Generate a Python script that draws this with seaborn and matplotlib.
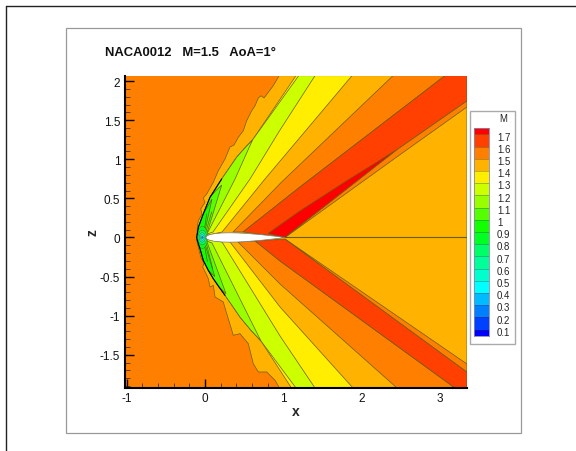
import numpy as np
import pandas as pd
import matplotlib
matplotlib.use("Agg")
import matplotlib.pyplot as plt
import seaborn as sns
from matplotlib.colors import ListedColormap
from matplotlib.lines import Line2D
from matplotlib.patches import Ellipse, Rectangle
from matplotlib.ticker import FormatStrFormatter, MultipleLocator

# legend levels, top to bottom
level_labels = ["1.7", "1.6", "1.5", "1.4", "1.3", "1.2", "1.1", "1", "0.9",
                "0.8", "0.7", "0.6", "0.5", "0.4", "0.3", "0.2", "0.1"]
level_colors = ["#ff0000", "#ff4000", "#ff8000", "#ffb300", "#ffee00", "#ccff00",
                "#99ff00", "#55ff00", "#11ff00", "#00ff22", "#00ff66", "#00ff99",
                "#00ffcc", "#00ffff", "#00bbff", "#0080ff", "#0040ff", "#0000ff"]

x_limits = (-1.027, 3.342)
z_limits = (-1.925, 2.069)

# edge of the outer light band (wavy upstream front)
front_up_x = [0.945, 0.871, 0.753, 0.714, 0.680, 0.638, 0.596, 0.532, 0.489, 0.425,
              0.370, 0.319, 0.255, 0.170, 0.106, 0.022, -0.022, 0.0, -0.055, -0.038,
              -0.085, -0.098, -0.106]
front_up_z = [2.069, 1.941, 1.784, 1.813, 1.784, 1.685, 1.621, 1.494, 1.366, 1.281,
              1.183, 1.157, 1.003, 0.854, 0.706, 0.556, 0.505, 0.450, 0.364, 0.300,
              0.215, 0.134, -0.019]
front_lo_x = [-0.098, -0.085, -0.055, -0.013, -0.030, 0.022, 0.042, 0.064, 0.106, 0.128,
              0.233, 0.277, 0.361, 0.446, 0.552, 0.616, 0.680, 0.787, 0.893, 0.950]
front_lo_z = [-0.079, -0.121, -0.249, -0.335, -0.377, -0.483, -0.527, -0.633, -0.612, -0.761,
              -0.825, -0.974, -1.251, -1.230, -1.358, -1.614, -1.720, -1.720, -1.826, -1.925]

# bow shock
shock_up_x = [-0.106, -0.098, -0.085, -0.022, 0.064, 0.140, 0.213, 0.310, 0.404, 0.500, 0.606]
shock_up_z = [0.0, 0.045, 0.130, 0.300, 0.514, 0.633, 0.748, 0.889, 1.026, 1.135, 1.247]
shock_up_end = (1.160, 2.069)
shock_lo_x = [-0.106, -0.098, -0.064, -0.022, 0.042, 0.106, 0.179, 0.255, 0.353, 0.446, 0.587, 0.714]
shock_lo_z = [0.0, -0.036, -0.143, -0.292, -0.420, -0.527, -0.633, -0.739, -0.880, -1.017, -1.187, -1.324]
shock_lo_end = (1.103, -1.925)

# iso-Mach rays, upper side
ray_ccff_up_x = [1.403, 0.957, 0.574, 0.102]
ray_ccff_up_z = [2.069, 1.375, 0.748, 0.070]
ray_yellow_up_x = [1.875, 0.765, 0.217]
ray_yellow_up_z = [2.069, 0.748, 0.070]
ray_light_up_x = [2.398, 0.978, 0.357]
ray_light_up_z = [2.069, 0.710, 0.070]
ray_orange_up_x = [3.061, 1.212, 0.485]
ray_orange_up_z = [2.069, 0.646, 0.070]
ray_red_up_x = [0.804, 1.212, 1.800, 2.462]
ray_red_up_z = [0.051, 0.340, 0.720, 1.132]

# iso-Mach rays, lower side
ray_ccff_lo_x = [1.403, 0.957, 0.650, 0.217]
ray_ccff_lo_z = [-1.925, -1.260, -0.761, -0.058]
ray_yellow_lo_x = [1.888, 0.957, 0.319]
ray_yellow_lo_z = [-1.925, -0.889, -0.058]
ray_light_lo_x = [2.449, 0.957, 0.421]
ray_light_lo_z = [-1.925, -0.595, -0.058]
ray_orange_lo_x = [3.189, 0.957, 0.640]
ray_orange_lo_z = [-1.925, -0.301, -0.045]

trailing_x, trailing_z = 1.020, 0.0

# thin contour spokes in the green part of the fan
spoke_x0 = [-0.013, 0.010, -0.013, 0.013]
spoke_z0 = [0.070, 0.070, -0.060, -0.060]
spoke_x1 = [0.022, 0.085, 0.030, 0.098]
spoke_z1 = [0.300, 0.326, -0.310, -0.400]

# supersonic pocket around the nose
nose_x = -0.034
nose_colors = ["#00ff22", "#00ff66", "#00ffcc", "#00ffff", "#0080ff"]
nose_rx = [0.070, 0.056, 0.040, 0.027, 0.012]
nose_rz = [0.140, 0.095, 0.060, 0.035, 0.015]

# airfoil half thickness
foil_x = [0.01, 0.0226, 0.035, 0.06, 0.11, 0.21, 0.31, 0.41, 0.51, 0.71, 0.91, 1.02]
foil_t = [0.0, 0.0189, 0.0262, 0.0355, 0.0468, 0.0574, 0.060, 0.058, 0.0529, 0.0367, 0.0145, 0.0]

EDGE = "#6b5c10"
W, H = 576, 452

sns.set_style("white")
plt.rcParams["font.family"] = ["Liberation Sans", "DejaVu Sans"]
plt.rcParams["axes.unicode_minus"] = False

fig = plt.figure(figsize=(W / 100, H / 100), dpi=100)
ax = fig.add_axes([124.5 / W, (H - 389) / H, (467 - 124.5) / W, (389 - 76.7) / H])
ax.set_facecolor(level_colors[2])


def band(xs, zs, color):
    ax.fill(xs, zs, facecolor=color, edgecolor=EDGE, linewidth=0.5, zorder=2)


xr, zt, zb = x_limits[1], z_limits[1], z_limits[0]
ex_up, ez_up = shock_up_end
ex_lo, ez_lo = shock_lo_end

# far field light band, painted first, the rest goes on top
band(front_up_x + front_lo_x + [xr, xr], front_up_z + front_lo_z + [zb, zt], level_colors[3])

# yellow and yellow-green fans
band(shock_up_x + [ex_up] + ray_yellow_up_x, shock_up_z + [ez_up] + ray_yellow_up_z, level_colors[4])
band(shock_lo_x + [ex_lo] + ray_yellow_lo_x, shock_lo_z + [ez_lo] + ray_yellow_lo_z, level_colors[4])
band(shock_up_x + [ex_up + 0.035] + ray_ccff_up_x, shock_up_z + [ez_up] + ray_ccff_up_z, level_colors[5])
band(shock_lo_x + [ex_lo + 0.058] + ray_ccff_lo_x, shock_lo_z + [ez_lo] + ray_ccff_lo_z, level_colors[5])

# green wedges behind the shock
band(shock_up_x + [0.383, 0.038], shock_up_z + [0.748, 0.070], level_colors[6])
band(shock_lo_x + [0.089], shock_lo_z + [-0.070], level_colors[6])
band(shock_up_x[:5] + [0.140, 0.213, 0.030], shock_up_z[:5] + [0.600, 0.671, 0.070], level_colors[7])
band(shock_lo_x[:7] + [0.268, 0.030], shock_lo_z[:7] + [-0.719, -0.070], level_colors[7])
band(shock_up_x[:4] + [0.089, -0.005], shock_up_z[:4] + [0.492, 0.065], level_colors[8])
band(shock_lo_x[:5] + [0.125, -0.005], shock_lo_z[:5] + [-0.500, -0.065], level_colors[8])

# orange fans aft of mid chord
band(ray_light_up_x[::-1] + ray_orange_up_x, ray_light_up_z[::-1] + ray_orange_up_z, level_colors[2])
band(ray_light_lo_x[::-1] + ray_orange_lo_x, ray_light_lo_z[::-1] + ray_orange_lo_z, level_colors[2])

# strong expansion off the trailing edge
band([0.485, 1.212, 3.061, xr, xr, 2.462, trailing_x],
     [0.070, 0.646, zt, zt, 1.746, 1.132, trailing_z], level_colors[1])
band(ray_red_up_x + [trailing_x], ray_red_up_z + [trailing_z], level_colors[0])
band([trailing_x, 2.462, xr, xr, 2.500], [trailing_z, 1.132, 1.746, 1.669, 1.068], level_colors[2])
band([0.640, 0.957, 3.189, xr, xr, trailing_x],
     [-0.045, -0.301, zb, zb, -1.720, -0.019], level_colors[1])
band([trailing_x, xr, xr], [-0.019, -1.618, -1.720], level_colors[2])

for x0, z0, x1, z1 in zip(spoke_x0, spoke_z0, spoke_x1, spoke_z1):
    sns.lineplot(x=[x0, x1], y=[z0, z1], sort=False, estimator=None, color=EDGE,
                 linewidth=0.5, ax=ax, zorder=3)

for color, rx, rz in zip(nose_colors, nose_rx, nose_rz):
    ax.add_patch(Ellipse((nose_x, 0.0), 2 * rx, 2 * rz, facecolor=color,
                         edgecolor=EDGE, linewidth=0.3, zorder=3))

# strong part of the shock and the wake cut
sns.lineplot(x=shock_up_x[:7], y=shock_up_z[:7], sort=False, estimator=None, color="black",
             linewidth=0.8, ax=ax, zorder=4)
sns.lineplot(x=shock_lo_x[:8], y=shock_lo_z[:8], sort=False, estimator=None, color="black",
             linewidth=0.8, ax=ax, zorder=4)
sns.lineplot(x=[trailing_x, xr], y=[0.0, 0.0], sort=False, estimator=None, color=EDGE,
             linewidth=0.8, ax=ax, zorder=4)

foil_up = np.array(foil_t)
ax.fill(foil_x + foil_x[::-1], list(foil_up) + list(-foil_up[::-1]), facecolor="white",
        edgecolor="#777777", linewidth=0.5, zorder=5)

ax.set_xlim(*x_limits)
ax.set_ylim(*z_limits)
ax.xaxis.set_major_locator(MultipleLocator(1))
ax.xaxis.set_minor_locator(MultipleLocator(0.2))
ax.yaxis.set_major_locator(MultipleLocator(0.5))
ax.yaxis.set_minor_locator(MultipleLocator(0.1))
ax.xaxis.set_major_formatter(FormatStrFormatter("%g"))
ax.yaxis.set_major_formatter(FormatStrFormatter("%g"))
ax.tick_params(which="major", direction="in", length=6.5, width=1.0, color="black", bottom=True, left=True,
               labelsize=8.5, pad=3, labelcolor="#111111")
ax.tick_params(which="minor", direction="in", length=3.5, width=0.5, color="#222222", bottom=True, left=True)
for name in ["top", "right"]:
    ax.spines[name].set_visible(False)
for name in ["left", "bottom"]:
    ax.spines[name].set_linewidth(1.5)
    ax.spines[name].set_color("black")
    ax.spines[name].set_zorder(6)

fig.text(105 / W, 1 - 53 / H, "NACA0012   M=1.5   AoA=1°", fontsize=9.4, fontweight="bold",
         va="center", ha="left", color="#111111")
fig.text(296 / W, 1 - 411.5 / H, "x", fontsize=10, fontweight="bold", va="center", ha="center")
fig.text(92.7 / W, 1 - 233 / H, "z", fontsize=10, fontweight="bold", rotation=90, va="center", ha="center")

# frames around the plot
fig.add_artist(Line2D([6 / W, 6 / W], [0, 1 - 7 / H], color="#222222", linewidth=1.0))
fig.add_artist(Line2D([6 / W, 1], [1 - 7 / H, 1 - 7 / H], color="#222222", linewidth=1.0))
fig.add_artist(Rectangle((65.5 / W, 1 - 433.5 / H), (521 - 65.5) / W, (433.5 - 28.5) / H, fill=False,
                         edgecolor="#999999", linewidth=0.9, transform=fig.transFigure))

# legend box, swatches drawn as half-level cells so the end colours come out short
fig.add_artist(Rectangle((469.5 / W, 1 - 345 / H), (514.5 - 469.5) / W, (345 - 111.5) / H, facecolor="white",
                         edgecolor="#aaaaaa", linewidth=1.0, transform=fig.transFigure, zorder=1))
leg = fig.add_axes([473.5 / W, 1 - 336.7 / H, (488.7 - 473.5) / W, (336.7 - 129.3) / H], zorder=2)
cells = [0] + [i for i in range(1, 17) for _ in (0, 1)] + [17]
sns.heatmap(pd.DataFrame({"M": cells}), cmap=ListedColormap(level_colors), vmin=-0.5, vmax=17.5,
            cbar=False, xticklabels=False, yticklabels=False, ax=leg)
leg.hlines(range(1, 34, 2), 0, 1, color="#333333", alpha=0.45, linewidth=0.5)
for name in leg.spines:
    leg.spines[name].set_visible(True)
    leg.spines[name].set_color("#8888aa")
    leg.spines[name].set_linewidth(0.6)
leg.set_ylabel("")
for i, label in enumerate(level_labels):
    leg.text(1.55, 2 * i + 1.35, label, fontsize=6.9, va="center", ha="left", color="#222222",
             transform=leg.get_yaxis_transform())
fig.text(503 / W, 1 - 119 / H, "M", fontsize=6.9, va="center", ha="center", color="#222222", zorder=3)

plt.savefig("out.png", dpi=100)
